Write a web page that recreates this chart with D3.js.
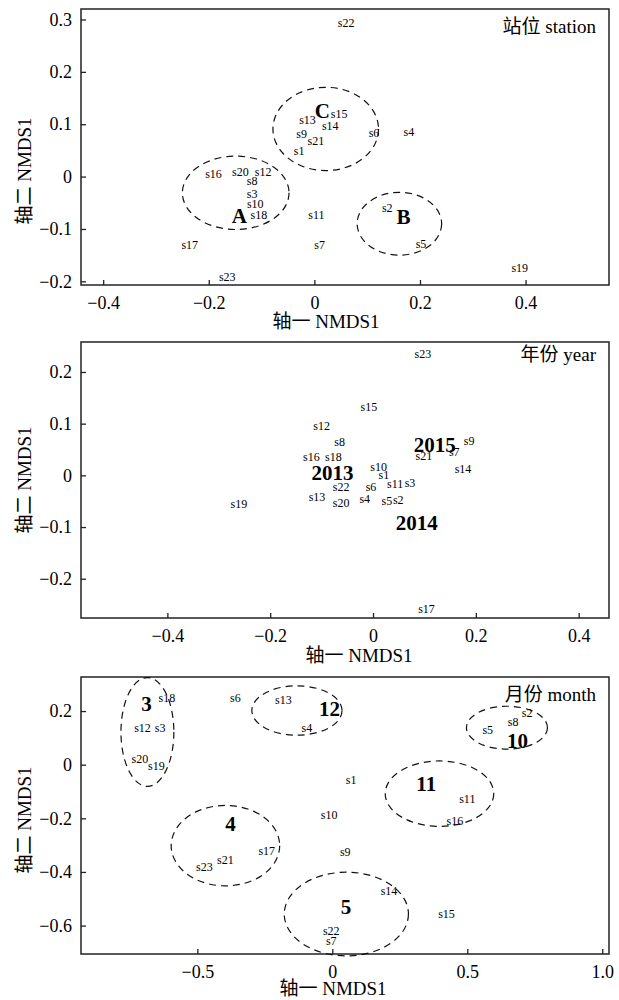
<!DOCTYPE html>
<html><head><meta charset="utf-8">
<script src="https://cdn.jsdelivr.net/npm/d3@7"></script>
<style>
html,body{margin:0;padding:0;background:#fff;}
svg{display:block;}
text{font-family:"Liberation Serif","Noto Sans CJK SC",serif;fill:#000;}
</style></head>
<body><svg id="chart" width="619" height="1000"></svg>
<script>
// ---------- data ----------
const samples = ["s1","s2","s3","s4","s5","s6","s7","s8","s9","s10","s11","s12","s13","s14","s15","s16","s17","s18","s19","s20","s21","s22","s23"];

// Panel 1: station
const stationX = [-0.029,0.138,-0.118,0.179,0.202,0.113,0.010,-0.118,-0.024,-0.112,0.004,-0.097,-0.013,0.030,0.047,-0.191,-0.236,-0.105,0.389,-0.140,0.003,0.060,-0.165];
const stationY = [0.049,-0.060,-0.033,0.085,-0.129,0.084,-0.131,-0.009,0.081,-0.052,-0.074,0.008,0.109,0.097,0.119,0.005,-0.131,-0.074,-0.175,0.008,0.068,0.294,-0.191];
const stationGroups = ["A","B","C"];
const stationGroupX = [-0.142,0.169,0.015];
const stationGroupY = [-0.076,-0.077,0.125];
const stationEllCx = [-0.149,0.161,0.0215];
const stationEllCy = [-0.031,-0.090,0.091];
const stationEllRx = [0.101,0.080,0.100];
const stationEllRy = [0.070,0.060,0.0795];
const stationXTicks = [-0.4,-0.2,0,0.2,0.4];
const stationYTicks = [0.3,0.2,0.1,0,-0.1,-0.2];

// Panel 2: year
const yearX = [0.021,0.049,0.072,-0.016,0.027,-0.004,0.158,-0.065,0.187,0.011,0.043,-0.100,-0.109,0.175,-0.008,-0.120,0.104,-0.077,-0.261,-0.062,0.099,-0.062,0.097];
const yearY = [0.000,-0.047,-0.015,-0.045,-0.050,-0.023,0.045,0.064,0.066,0.016,-0.016,0.095,-0.041,0.013,0.132,0.035,-0.258,0.035,-0.056,-0.054,0.037,-0.023,0.235];
const yearGroups = ["2013","2014","2015"];
const yearGroupX = [-0.079,0.085,0.120];
const yearGroupY = [0.004,-0.093,0.058];
const yearXTicks = [-0.4,-0.2,0,0.2,0.4];
const yearYTicks = [0.2,0.1,0,-0.1,-0.2];

// Panel 3: month
const monthX = [0.070,0.722,-0.638,-0.094,0.576,-0.359,-0.004,0.670,0.048,-0.012,0.500,-0.703,-0.181,0.210,0.423,0.454,-0.243,-0.613,-0.652,-0.713,-0.396,-0.004,-0.474];
const monthY = [-0.056,0.191,0.138,0.138,0.128,0.250,-0.659,0.159,-0.327,-0.186,-0.127,0.138,0.240,-0.472,-0.555,-0.211,-0.323,0.250,-0.006,0.022,-0.355,-0.619,-0.383];
const monthGroups = ["3","4","5","10","11","12"];
const monthGroupX = [-0.688,-0.377,0.051,0.686,0.348,-0.010];
const monthGroupY = [0.228,-0.223,-0.530,0.088,-0.071,0.209];
const monthEllCx = [-0.685,-0.396,0.052,0.647,0.397,-0.131];
const monthEllCy = [0.122,-0.302,-0.557,0.138,-0.108,0.202];
const monthEllRx = [0.098,0.201,0.230,0.150,0.201,0.167];
const monthEllRy = [0.203,0.150,0.156,0.080,0.122,0.092];
const monthXTicks = [-0.5,0,0.5,1.0];
const monthYTicks = [0.2,0,-0.2,-0.4,-0.6];

const xLabel = "轴一 NMDS1";
const yLabel = "轴二 NMDS1";

// ---------- drawing ----------
const svg = d3.select("#chart");
const L = 81, R = 609;
const fmt = v => v === 0 ? "0" : d3.format(".1f")(v);

function drawPanel(cfg){
  const g = svg.append("g");
  const x = d3.scaleLinear().domain(cfg.xDomain).range([L, R]);
  const y = d3.scaleLinear().domain(cfg.yDomain).range([cfg.bottom, cfg.top]);

  const ax = g.append("g").attr("transform", `translate(0,${cfg.bottom})`)
    .call(d3.axisBottom(x).tickValues(cfg.xTicks).tickFormat(fmt).tickSize(-5).tickSizeOuter(0).tickPadding(11));
  const ay = g.append("g").attr("transform", `translate(${L},0)`)
    .call(d3.axisLeft(y).tickValues(cfg.yTicks).tickFormat(fmt).tickSize(-5).tickSizeOuter(0).tickPadding(9));
  [ax, ay].forEach(a => {
    a.select(".domain").remove();
    a.selectAll("line").attr("stroke", "#222").attr("stroke-width", 1.3);
    a.selectAll("text").attr("font-size", 18).attr("font-family", '"Liberation Serif",serif').attr("fill", "#000");
  });

  g.append("rect").attr("x", L).attr("y", cfg.top).attr("width", R - L).attr("height", cfg.bottom - cfg.top)
    .attr("fill", "none").attr("stroke", "#222").attr("stroke-width", 1.5);

  if (cfg.ell) {
    const e = cfg.ell;
    g.selectAll("ellipse.e").data(d3.range(e.cx.length)).join("ellipse")
      .attr("cx", i => x(e.cx[i])).attr("cy", i => y(e.cy[i]))
      .attr("rx", i => x(e.cx[i] + e.rx[i]) - x(e.cx[i]))
      .attr("ry", i => y(e.cy[i] - e.ry[i]) - y(e.cy[i]))
      .attr("fill", "none").attr("stroke", "#111").attr("stroke-width", 1.2).attr("stroke-dasharray", "7,5");
  }

  g.selectAll("text.s").data(samples).join("text").attr("class", "s")
    .attr("x", (d, i) => x(cfg.sx[i])).attr("y", (d, i) => y(cfg.sy[i]))
    .attr("text-anchor", "middle").attr("dominant-baseline", "central")
    .attr("font-size", 12).text(d => d);

  g.selectAll("text.gr").data(cfg.groups).join("text").attr("class", "gr")
    .attr("x", (d, i) => x(cfg.gx[i])).attr("y", (d, i) => y(cfg.gy[i]))
    .attr("text-anchor", "middle").attr("dominant-baseline", "central")
    .attr("font-size", 21).attr("font-weight", "bold").text(d => d);

  g.append("text").attr("x", 596).attr("y", cfg.top + cfg.titleDy).attr("text-anchor", "end")
    .attr("font-size", 19).text(cfg.title);

  g.append("text").attr("x", cfg.xLabelX).attr("y", cfg.bottom + cfg.xLabelDy).attr("text-anchor", "middle")
    .attr("font-size", 19).text(xLabel);

  g.append("text").attr("transform", `translate(31,${cfg.yLabelY}) rotate(-90)`).attr("text-anchor", "middle")
    .attr("font-size", 19).text(yLabel);
}

drawPanel({
  top: 9, bottom: 285, xDomain: [-0.442, 0.558], yDomain: [-0.207, 0.320],
  xTicks: stationXTicks, yTicks: stationYTicks,
  sx: stationX, sy: stationY, groups: stationGroups, gx: stationGroupX, gy: stationGroupY,
  ell: {cx: stationEllCx, cy: stationEllCy, rx: stationEllRx, ry: stationEllRy},
  title: "站位 station", titleDy: 24, xLabelX: 326, xLabelDy: 43, yLabelY: 171
});
drawPanel({
  top: 342, bottom: 618, xDomain: [-0.568, 0.459], yDomain: [-0.276, 0.258],
  xTicks: yearXTicks, yTicks: yearYTicks,
  sx: yearX, sy: yearY, groups: yearGroups, gx: yearGroupX, gy: yearGroupY,
  ell: null,
  title: "年份 year", titleDy: 19, xLabelX: 359, xLabelDy: 44, yLabelY: 480
});
drawPanel({
  top: 677, bottom: 954, xDomain: [-0.931, 1.025], yDomain: [-0.706, 0.327],
  xTicks: monthXTicks, yTicks: monthYTicks,
  sx: monthX, sy: monthY, groups: monthGroups, gx: monthGroupX, gy: monthGroupY,
  ell: {cx: monthEllCx, cy: monthEllCy, rx: monthEllRx, ry: monthEllRy},
  title: "月份 month", titleDy: 24, xLabelX: 333, xLabelDy: 41, yLabelY: 820
});
</script></body></html>
